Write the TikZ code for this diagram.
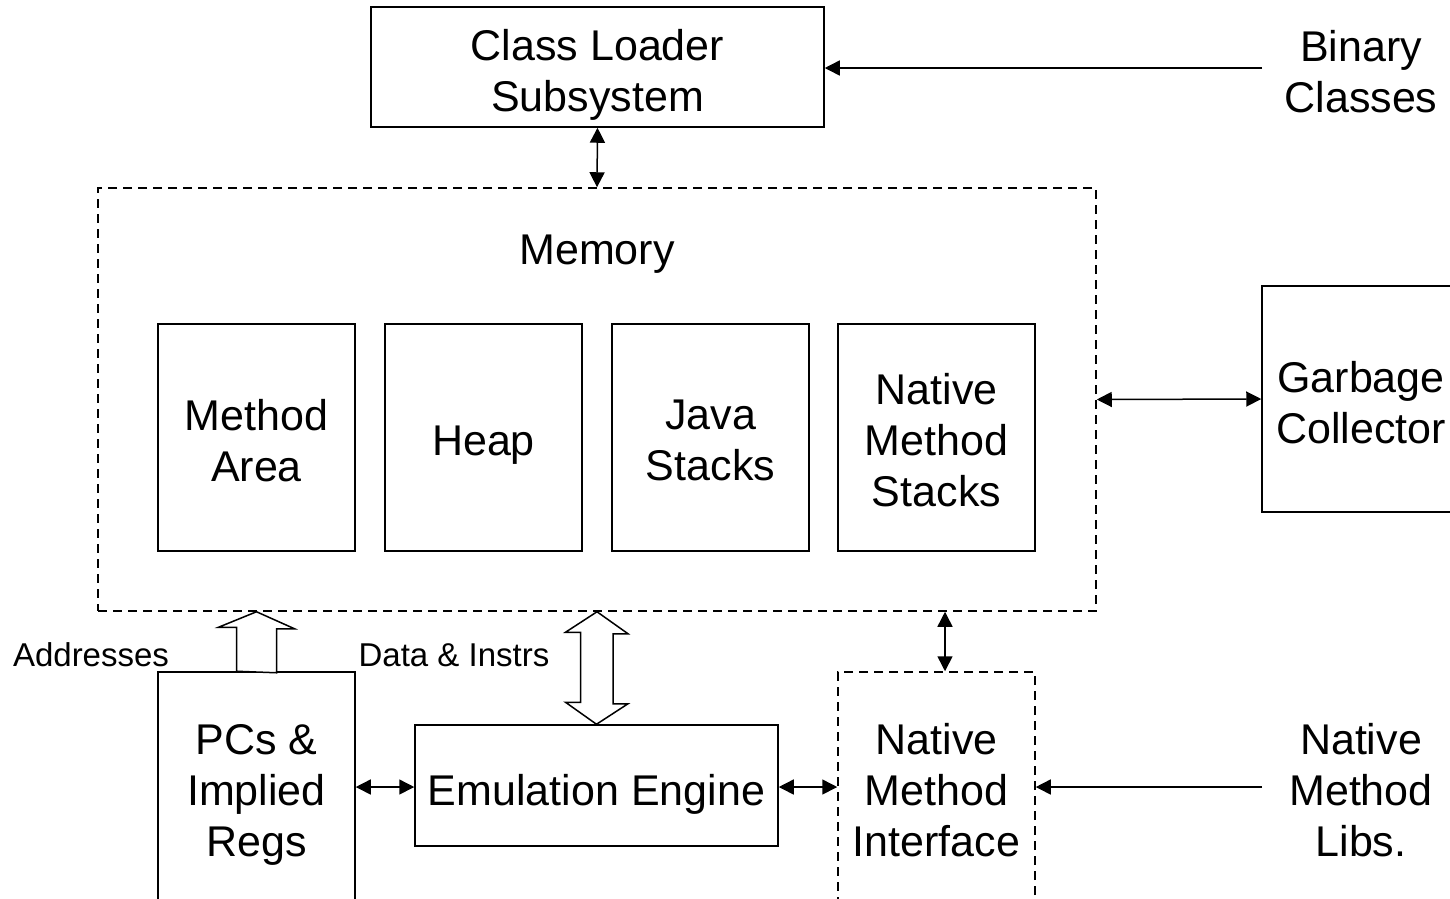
\documentclass[tikz,border=0pt]{standalone}
\usepackage{fontspec}
\setmainfont{Liberation Sans}
\usetikzlibrary{arrows.meta,calc}
\tikzset{
  big/.style={font=\fontsize{43}{51}\selectfont, align=center, inner sep=0pt},
  small/.style={font=\fontsize{33}{38}\selectfont, inner sep=0pt},
  box/.style={draw, line width=1.5pt, inner sep=0pt},
  dbox/.style={box, dash pattern=on 9pt off 6pt},
  conn/.style={line width=1.5pt, -{Triangle[length=15pt,width=15pt]}},
  biconn/.style={line width=1.5pt, {Triangle[length=15pt,width=15pt]}-{Triangle[length=15pt,width=15pt]}},
  hollow/.style={draw, line width=1.5pt, fill=white, line join=miter},
}
\begin{document}
\begin{tikzpicture}[x=1pt, y=-1pt]
\useasboundingbox (0,0) rectangle (1450,898);
\clip (0,0) rectangle (1450,898);
\fill[white] (0,0) rectangle (1450,898);

% top: class loader and its input
\node[box, minimum width=453pt, minimum height=120pt] (cls) at (597.5,67) {};
\node[big] (clsT) at ([yshift=-8pt]cls.center) {Class Loader\\Subsystem};
\node[big] (bin) at (1361,72) {Binary\\Classes};
\coordinate (binin) at (1262,68);

% memory and its areas
\node[dbox, minimum width=998pt, minimum height=423pt] (mem) at (597,399.5) {};
\node[big] (memlbl) at (597,254) {Memory};
\node[box, minimum width=197pt, minimum height=227pt] (ma) at (256.5,437.5) {};
\node[box, minimum width=197pt, minimum height=227pt] (heap) at (483.5,437.5) {};
\node[box, minimum width=197pt, minimum height=227pt] (js) at (710.5,437.5) {};
\node[box, minimum width=197pt, minimum height=227pt] (nms) at (936.5,437.5) {};
\node[big] (maT) at ([yshift=-3pt]ma.center) {Method\\Area};
\node[big] (heapT) at ([yshift=-8pt]heap.center) {Heap};
\node[big] (jsT) at ([yshift=-3pt]js.center) {Java\\Stacks};
\node[big] (nmsT) at ([yshift=-3pt]nms.center) {Native\\Method\\Stacks};

% garbage collector
\node[box, minimum width=200pt, minimum height=226pt] (gc) at (1362,399) {};
\node[big] (gcT) at (1361,403) {Garbage\\Collector};

% bottom row
\node[box, minimum width=197pt, minimum height=236pt] (pcs) at (256.5,790) {};
\node[big] (pcsT) at ([yshift=-5pt]pcs.center) {PCs \&\\Implied\\Regs};
\node[box, minimum width=363pt, minimum height=121pt] (emu) at (596.5,785.5) {};
\node[big] (emuT) at ([yshift=-9pt]emu.center) {Emulation Engine};
\node[dbox, minimum width=197pt, minimum height=236pt] (nmi) at (936.5,790) {};
\node[big] (nmiT) at (nmi.center) {Native\\Method\\Interface};
\node[big] (libs) at (1361,790) {Native\\Method\\Libs.};
\coordinate (libsin) at (1262,787);

\node[small] (addr) at (91,655) {Addresses};
\node[small] (data) at (454,655) {Data \& Instrs};

% connectors
\draw[conn] (binin) -- (binin -| cls.east);
\draw[biconn] (cls.south) -- (mem.north);
\draw[biconn] (mem.east) -- (gc.west);
\draw[biconn] ([yshift=-1.5pt]pcs.east |- emu.west) -- ([yshift=-1.5pt]emu.west);
\draw[biconn] ([yshift=-1.5pt]emu.east) -- ([yshift=-1.5pt]nmi.west |- emu.east);
\draw[conn] (libsin) -- (libsin -| nmi.east);
\draw[biconn] ([xshift=8.5pt]nmi.north |- mem.south) -- ([xshift=8.5pt]nmi.north);

% hollow bus arrows
\draw[hollow] ([xshift=-20pt]pcs.north) -- ++(0,-44) -- ++(-18,0)
  -- (pcs.north |- mem.south) -- ++(38,17) -- ++(-18,0) -- ++(0,44) -- cycle;
\draw[hollow] (mem.south) -- ++(31,22) -- ++(-15,0) -- ++(0,70) -- ++(15,0)
  -- (emu.north) -- ++(-31,-22) -- ++(15,0) -- ++(0,-70) -- ++(-15,0) -- cycle;
\end{tikzpicture}
\end{document}
